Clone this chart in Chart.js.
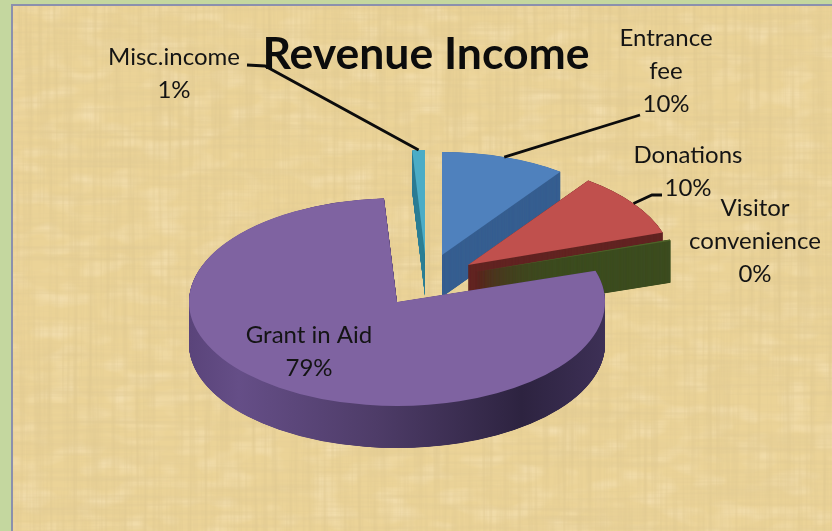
<!DOCTYPE html>
<html>
<head>
    <title>Revenue Income</title>
    <script src="https://cdn.jsdelivr.net/npm/chart.js"></script>
    <style>
        html, body { margin: 0; width: 832px; height: 531px; overflow: hidden; background: #c4d79f; }
        #paper { position: absolute; left: 11px; top: 4px; width: 821px; height: 527px; box-sizing: border-box;
                 border-left: 2px solid #8b90ad; border-top: 2px solid #8b90ad; background-color: #ebd397; }
        #chart { position: absolute; left: 0; top: 0; }
    </style>
</head>
<body>
<div id="paper"></div>
<canvas id="chart" width="832" height="531"></canvas>
<script>
    var categories = [['Entrance', 'fee'], ['Donations'], ['Visitor', 'convenience'], ['Grant in Aid'], ['Misc.income']];
    var revenueShare = [10, 10, 0.2, 79, 1];

    var topColors = ['#4f81bd', '#c0504d', '#4f6228', '#7f63a1', '#4bacc6'];
    var wallColors = ['#375f90', '#632523', '#3d4d20', '#4e3c68', '#2f7f96'];

    // where each exploded slice has its tip on the page
    var tipX = [442, 468, 475, 397, 425];
    var tipY = [255, 265, 272, 302, 254];
    var sliceScale = [0.97, 0.985, 0.985, 1, 0.98];
    var squash = [0.51, 0.51, 0.51, 0.5, 0.51];
    var drawOrder = [4, 0, 1, 2, 3];

    // label centres and leader elbows
    var labelX = [666, 688, 755, 309, 174];
    var labelY = [38, 155, 208, 335, 57];
    var labelStep = 33;
    var elbows = [[[640, 115]], [[652, 195], [662, 195]], null, null, [[265, 66], [247, 65]]];

    var depth = 42;

    // papyrus look, only a background
    var svg = "<svg xmlns='http://www.w3.org/2000/svg' width='821' height='527'>" +
        "<filter id='a' x='0' y='0' width='100%' height='100%'><feTurbulence type='fractalNoise' baseFrequency='0.006 0.2' numOctaves='3' seed='4'/>" +
        "<feColorMatrix values='0 0 0 0 .76 0 0 0 0 .6 0 0 0 0 .3 0 0 0 1.5 -.6'/></filter>" +
        "<filter id='b' x='0' y='0' width='100%' height='100%'><feTurbulence type='fractalNoise' baseFrequency='0.2 0.006' numOctaves='3' seed='9'/>" +
        "<feColorMatrix values='0 0 0 0 .74 0 0 0 0 .58 0 0 0 0 .28 0 0 0 1.5 -.6'/></filter>" +
        "<filter id='c' x='0' y='0' width='100%' height='100%'><feTurbulence type='fractalNoise' baseFrequency='0.03 0.06' numOctaves='2' seed='2'/>" +
        "<feColorMatrix values='0 0 0 0 .97 0 0 0 0 .84 0 0 0 0 .6 0 0 0 1.1 -.5'/></filter>" +
        "<rect width='821' height='527' filter='url(#c)'/><rect width='821' height='527' filter='url(#a)'/><rect width='821' height='527' filter='url(#b)'/></svg>";
    document.getElementById('paper').style.backgroundImage = 'url("data:image/svg+xml,' + encodeURIComponent(svg) + '")';

    function placeSlice(ctx, arc, i, drop) {
        ctx.save();
        ctx.translate(tipX[i], tipY[i] + drop);
        ctx.scale(sliceScale[i], sliceScale[i] * squash[i]);
        ctx.translate(-arc.x, -arc.y);
        arc.draw(ctx);
        ctx.restore();
    }

    function grantWall(ctx, arc) {
        var g = ctx.createLinearGradient(arc.x - arc.outerRadius, 0, arc.x + arc.outerRadius, 0);
        g.addColorStop(0, '#5a447a');
        g.addColorStop(0.12, '#654e87');
        g.addColorStop(0.45, '#4e3c68');
        g.addColorStop(0.8, '#2d2340');
        g.addColorStop(1, '#3d3056');
        return g;
    }

    var pie3d = {
        id: 'pie3d',
        beforeDatasetDraw: function(chart) {
            var ctx = chart.ctx;
            var arcs = chart.getDatasetMeta(0).data;
            drawOrder.forEach(function(i) {
                var arc = arcs[i];
                var opts = arc.options;
                arc.options = Object.assign({}, opts, { backgroundColor: i === 3 ? grantWall(ctx, arc) : wallColors[i] });
                for (var d = depth; d > 0; d -= 0.2) placeSlice(ctx, arc, i, d);
                arc.options = opts;
                placeSlice(ctx, arc, i, 0);
            });
            return false;
        },
        afterDraw: function(chart) {
            var ctx = chart.ctx;
            var arcs = chart.getDatasetMeta(0).data;
            var total = revenueShare.reduce(function(a, b) { return a + b; }, 0);

            ctx.save();
            ctx.strokeStyle = '#0c0c0c';
            ctx.lineWidth = 2.8;
            arcs.forEach(function(arc, i) {
                if (!elbows[i]) return;
                var mid = (arc.startAngle + arc.endAngle) / 2;
                var r = arc.outerRadius * sliceScale[i];
                ctx.beginPath();
                ctx.moveTo(tipX[i] + Math.cos(mid) * r, tipY[i] + Math.sin(mid) * r * squash[i]);
                elbows[i].forEach(function(p) { ctx.lineTo(p[0], p[1]); });
                ctx.stroke();
            });

            ctx.fillStyle = '#141414';
            ctx.font = '24px Lato';
            ctx.textAlign = 'center';
            ctx.textBaseline = 'middle';
            categories.forEach(function(lines, i) {
                var all = lines.concat(Math.round(revenueShare[i] / total * 100) + '%');
                all.forEach(function(t, n) {
                    ctx.fillText(t, labelX[i], labelY[i] + n * labelStep);
                });
            });
            ctx.restore();
        }
    };

    var chart = new Chart(document.getElementById('chart').getContext('2d'), {
        type: 'pie',
        data: {
            labels: categories,
            datasets: [{
                data: revenueShare,
                backgroundColor: topColors,
                borderWidth: 0
            }]
        },
        options: {
            responsive: false,
            animation: false,
            radius: 208,
            layout: { padding: { left: 20 } },
            plugins: {
                legend: { display: false },
                tooltip: { enabled: false },
                title: {
                    display: true,
                    text: 'Revenue Income',
                    color: '#0c0c0c',
                    font: { family: 'Lato', size: 44.5, weight: 'bold' },
                    padding: { top: 28, bottom: 0 }
                }
            }
        },
        plugins: [pie3d]
    });
</script>
</body>
</html>
